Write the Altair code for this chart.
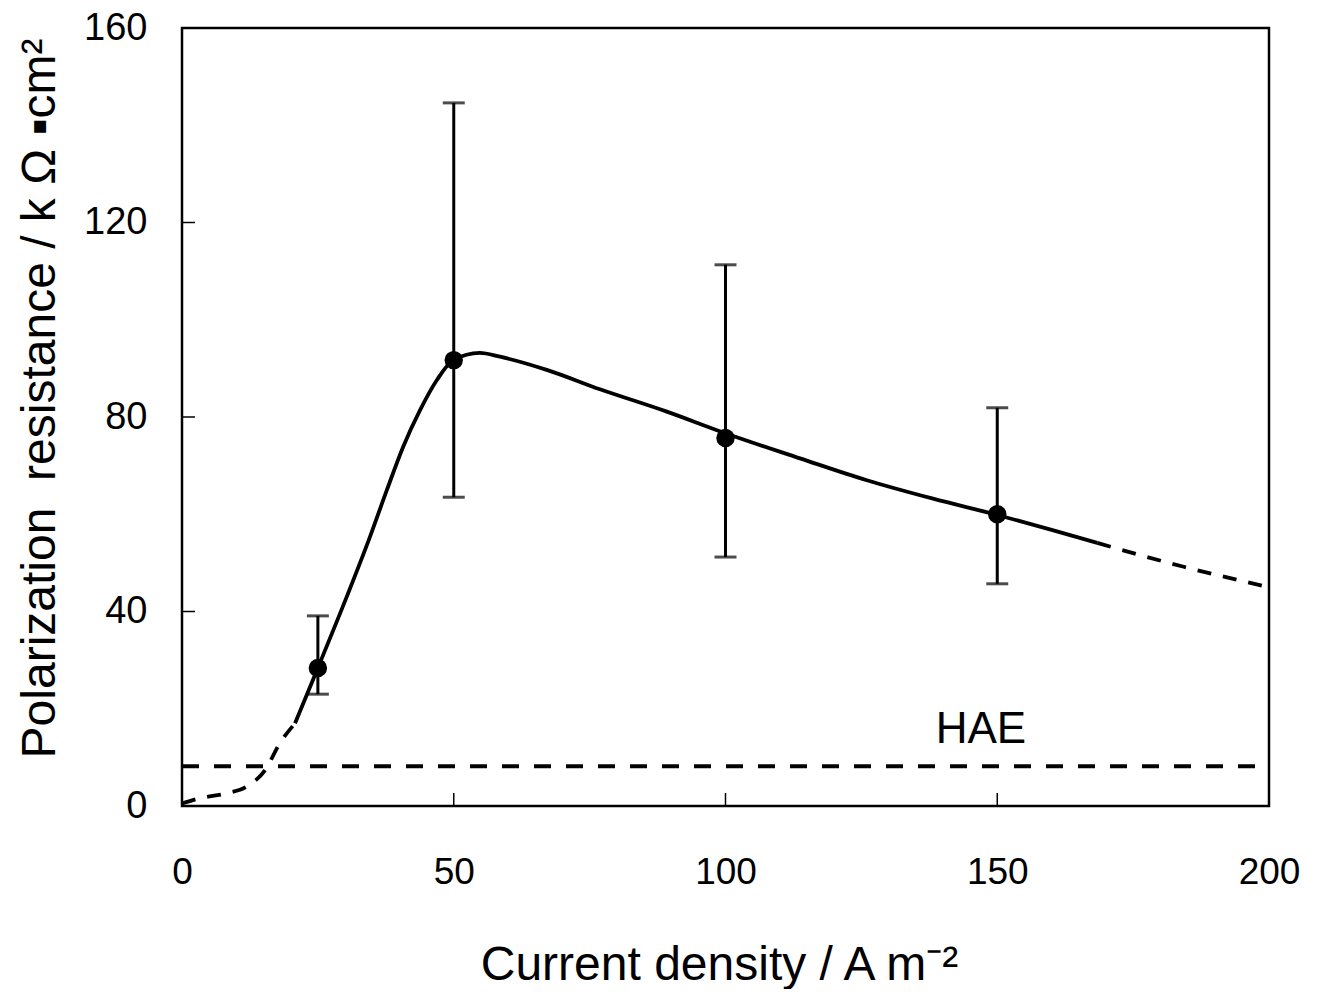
import altair as alt
import pandas as pd

# measured points with error bars
pt_x = [25, 50, 100, 150]
pt_y = [28.4, 91.7, 75.7, 60.0]
pt_lo = [23.0, 63.5, 51.2, 45.7]
pt_hi = [39.1, 144.6, 111.3, 81.9]

# fitted curve: dashed start, solid middle, dashed end
dash1_x = [0, 3.3, 8.2, 11.9, 15.3, 18.0, 20.8]
dash1_y = [0.5, 1.6, 2.6, 4.0, 7.4, 12.9, 17.0]
solid_x = [20.8, 25, 30.3, 34.6, 37.7, 40.7, 43.8, 46.9, 49.9, 54.8, 58.5, 67.1,
           76.9, 89.2, 100.1, 113.7, 126.0, 138.2, 150.2, 160, 168.4]
solid_y = [17.0, 28.4, 43.0, 55.4, 65.0, 73.9, 81.4, 87.6, 91.7, 93.2, 92.4, 89.7,
           85.7, 81.1, 76.6, 71.5, 67.0, 63.2, 59.8, 56.8, 54.1]
dash2_x = [168.4, 184.3, 200]
dash2_y = [54.1, 49.2, 45.0]

# HAE reference level
hae_x = [0, 200]
hae_y = [8.2, 8.2]
hae_label = "HAE"
hae_label_x = 147
hae_label_y = 13.0

x_ticks = [0, 50, 100, 150, 200]
y_ticks = [0, 40, 80, 120, 160]

FONT = "Liberation Sans"
W, H = 1087, 778

xs = alt.Scale(domain=[0, 200], nice=False)
ys = alt.Scale(domain=[0, 160], nice=False)

pts = pd.DataFrame({"x": pt_x, "y": pt_y, "lo": pt_lo, "hi": pt_hi})
d1 = pd.DataFrame({"x": dash1_x, "y": dash1_y})
sd = pd.DataFrame({"x": solid_x, "y": solid_y})
d2 = pd.DataFrame({"x": dash2_x, "y": dash2_y})
hae = pd.DataFrame({"x": hae_x, "y": hae_y})
lab = pd.DataFrame({"x": [hae_label_x], "y": [hae_label_y], "t": [hae_label]})
xt = pd.DataFrame({"v": x_ticks})
yt = pd.DataFrame({"v": y_ticks})

xaxis = alt.Axis(values=x_ticks, ticks=False, tickSize=0, domain=False, grid=False,
                 labelFont=FONT, labelFontSize=37, labelColor="black", labelPadding=48,
                 labelBaseline="top", labelFlush=False, labelAlign="center",
                 title="Current density / A m\u207b\u00b2",
                 titleFont=FONT, titleFontSize=48, titleFontWeight="normal",
                 titleColor="black", titleX=537, titleY=159, titleBaseline="middle",
                 titleAlign="center")
yaxis = alt.Axis(values=y_ticks, ticks=False, tickSize=0, domain=False, grid=False,
                 labelFont=FONT, labelFontSize=38, labelColor="black", labelPadding=35,
                 labelFlush=False, labelBaseline="middle",
                 title="Polarization\u00a0\u00a0resistance / k\u00a0\u03a9\u00a0\u25aacm\u00b2",
                 titleFont=FONT, titleFontSize=48, titleFontWeight="normal",
                 titleColor="black", titleAngle=-90, titleX=-142, titleY=370,
                 titleBaseline="middle", titleAlign="center")

base_x = alt.X("x:Q", scale=xs, axis=xaxis)
base_y = alt.Y("y:Q", scale=ys, axis=yaxis)

hae_line = alt.Chart(hae).mark_line(color="black", strokeWidth=4, strokeDash=[17, 15]).encode(
    x=base_x, y=base_y)
c1 = alt.Chart(d1).mark_line(color="black", strokeWidth=3.8, strokeDash=[14, 12],
                             interpolate="monotone").encode(x="x:Q", y="y:Q")
c2 = alt.Chart(sd).mark_line(color="black", strokeWidth=3.8,
                             interpolate="monotone").encode(x="x:Q", y="y:Q")
c3 = alt.Chart(d2).mark_line(color="black", strokeWidth=3.8, strokeDash=[14, 12],
                             interpolate="monotone").encode(x="x:Q", y="y:Q")
err = alt.Chart(pts).mark_rule(color="black", strokeWidth=3).encode(
    x="x:Q", y="lo:Q", y2="hi:Q")
cap_lo = alt.Chart(pts).mark_tick(color="black", orient="horizontal", size=22,
                                  thickness=3).encode(x="x:Q", y="lo:Q")
cap_hi = alt.Chart(pts).mark_tick(color="black", orient="horizontal", size=22,
                                  thickness=3).encode(x="x:Q", y="hi:Q")
dots = alt.Chart(pts).mark_point(filled=True, color="black", size=340, opacity=1,
                                 shape="circle").encode(x="x:Q", y="y:Q")
txt = alt.Chart(lab).mark_text(font=FONT, fontSize=44, color="black", align="center",
                               baseline="alphabetic").encode(x="x:Q", y="y:Q", text="t:N")
xtk = alt.Chart(xt).mark_rule(color="black", strokeWidth=1.5).encode(
    x=alt.X("v:Q", scale=xs), y=alt.value(H), y2=alt.value(H - 13))
ytk = alt.Chart(yt).mark_rule(color="black", strokeWidth=1.5).encode(
    y=alt.Y("v:Q", scale=ys), x=alt.value(0), x2=alt.value(13))

chart = alt.layer(hae_line, c1, c2, c3, err, cap_lo, cap_hi, dots, txt, xtk, ytk).properties(
    width=W, height=H,
    autosize=alt.AutoSizeParams(type="none"),
    padding={"left": 174, "top": 20, "right": 40, "bottom": 183},
).configure(
    background="white",
    view=alt.ViewConfig(stroke="black", strokeWidth=2.5),
)

chart.save("out.html", embed_options={"renderer": "svg", "actions": False})
